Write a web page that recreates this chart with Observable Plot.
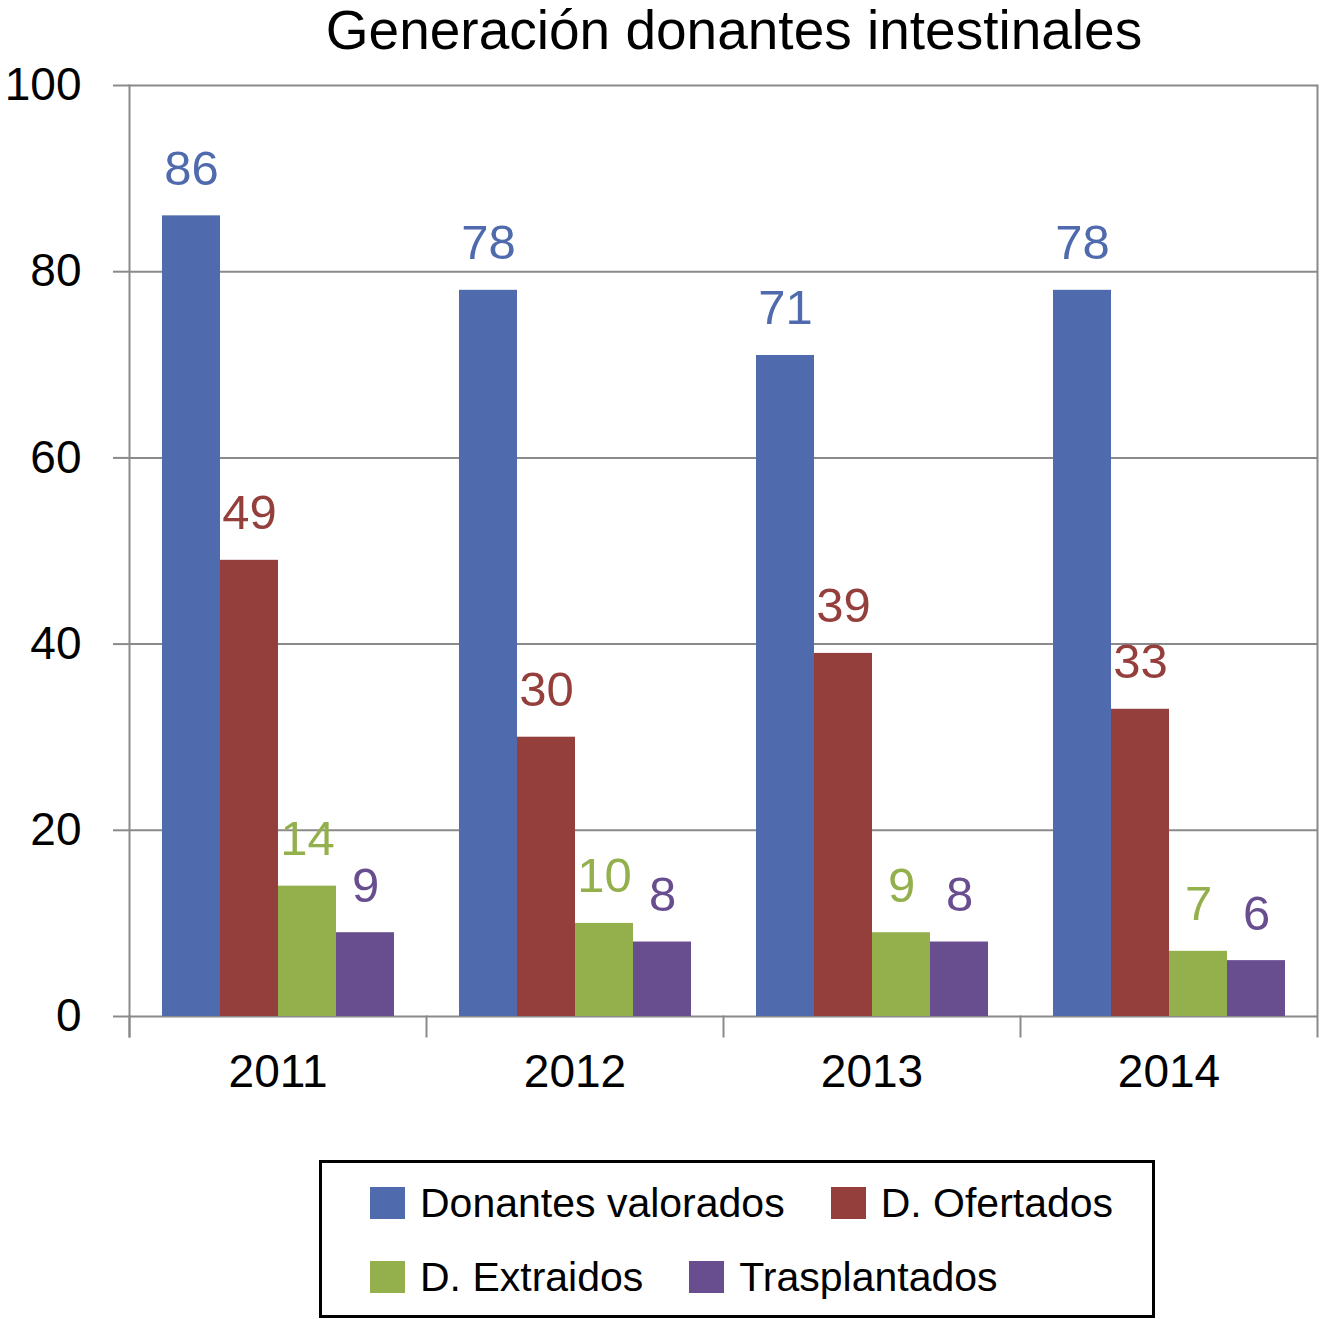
<!DOCTYPE html>
<html>
<head>
<meta charset="utf-8">
<script src="https://cdn.jsdelivr.net/npm/d3@7"></script>
<script src="https://cdn.jsdelivr.net/npm/@observablehq/plot@0.6"></script>
<style>
  body { margin: 0; background: white; font-family: "Liberation Sans", Arial, Helvetica, sans-serif; }
  #title { margin-left: 147px; width: 1174px; height: 60px; line-height: 60px; font-size: 55px; text-align: center; color: black; white-space: nowrap; }
  #chart svg { overflow: visible; display: block; }
  #legend { position: relative; margin: 60px 0 0 319px; width: 830px; height: 152px; border: 3px solid black; box-sizing: content-box; }
  .row { position: absolute; left: 48px; height: 40px; display: flex; align-items: center; gap: 46px; font-size: 41px; white-space: nowrap; }
  .item { display: flex; align-items: center; gap: 15px; }
  .swatch { width: 35px; height: 32px; }
</style>
</head>
<body>
<div id="title">Generación donantes intestinales</div>
<div id="chart"></div>
<div id="legend"></div>
<script>
// Generación donantes intestinales
/* global d3, Plot */

const years = ['2011', '2012', '2013', '2014'];
const series = ['Donantes valorados', 'D. Ofertados', 'D. Extraidos', 'Trasplantados'];
const valorados = [86, 78, 71, 78];
const ofertados = [49, 30, 39, 33];
const extraidos = [14, 10, 9, 7];
const trasplantados = [9, 8, 8, 6];
const yTicks = [0, 20, 40, 60, 80, 100];
const barColors = ['#4f6bad', '#953f3c', '#93b04c', '#684d8f'];

const values = [valorados, ofertados, extraidos, trasplantados];
const rows = years.flatMap((year, i) => series.map((s, j) => ({ year, series: s, value: values[j][i] })));

const gray = '#8a8a8a';
const marginTop = 25;
const marginBottom = 84;
const height = 1040;
const plotHeight = height - marginTop - marginBottom;

const chart = Plot.plot({
  width: 1321,
  height,
  marginLeft: 128,
  marginRight: 3,
  marginTop,
  marginBottom,
  style: { fontFamily: '"Liberation Sans", Arial, Helvetica, sans-serif', color: 'black', background: 'white', overflow: 'visible' },
  fx: { domain: years, padding: 0 },
  x: { domain: series, paddingInner: 0, paddingOuter: 0.54, axis: null },
  y: { domain: [0, 100] },
  color: { domain: series, range: barColors },
  marks: [
    Plot.ruleY(yTicks, { stroke: gray, strokeWidth: 2 }),
    Plot.frame({ anchor: 'left', facetAnchor: 'left', insetBottom: -20, stroke: gray, strokeWidth: 2 }),
    Plot.frame({ anchor: 'right', facetAnchor: 'right', insetBottom: -20, stroke: gray, strokeWidth: 2 }),
    Plot.frame({ anchor: 'left', insetTop: plotHeight, insetBottom: -20, stroke: gray, strokeWidth: 2 }),
    Plot.axisY({ ticks: yTicks, tickSize: 16, tickPadding: 32, fontSize: 46, stroke: gray, strokeWidth: 2, strokeOpacity: 1, label: null }),
    Plot.axisFx({ anchor: 'bottom', tickSize: 0, tickPadding: 38, fontSize: 46, label: null }),
    Plot.barY(rows, { fx: 'year', x: 'series', y: 'value', fill: 'series' }),
    Plot.text(rows, { fx: 'year', x: 'series', y: 'value', text: d => String(d.value), fill: 'series', dy: -31, lineAnchor: 'bottom', fontSize: 49 })
  ]
});
document.getElementById('chart').append(chart);

// legend in two rows, like the original
const legend = d3.select('#legend');
[[0, 1], [2, 3]].forEach((idx, r) => {
  const row = legend.append('div').attr('class', 'row').style('top', (20 + r * 74) + 'px');
  idx.forEach(j => {
    const item = row.append('div').attr('class', 'item');
    item.append('div').attr('class', 'swatch').style('background', barColors[j]);
    item.append('span').text(series[j]);
  });
});
</script>
</body>
</html>
